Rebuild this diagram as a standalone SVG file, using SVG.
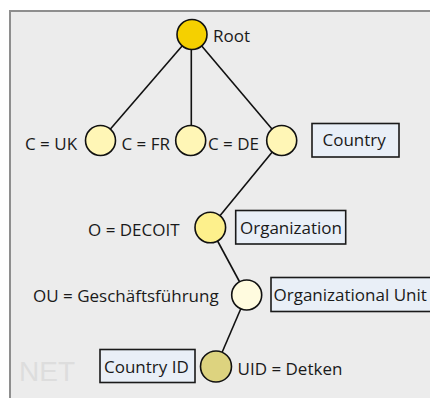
<svg xmlns="http://www.w3.org/2000/svg" width="430" height="398" viewBox="0 0 430 398">
<style>
text{font-family:"Open Sans","Noto Sans","Liberation Sans",sans-serif;font-size:17px;fill:#1a1a1a}
.n{stroke:#111;stroke-width:1.6}
.box{fill:#e9eff7;stroke:#1a1a1a;stroke-width:1.6}
.e{stroke:#111;stroke-width:1.6;fill:none}
</style>
<rect x="0" y="0" width="430" height="398" fill="#ffffff"/>
<rect x="10" y="11" width="440" height="400" fill="#ececec" stroke="#8e8e8e" stroke-width="2"/>
<text x="19" y="381" style="font-size:28px;fill:#dddddd;font-family:'Liberation Sans',sans-serif">NET</text>
<g id="connectors">
<line class="e" x1="192" y1="34.5" x2="100.5" y2="140.5"/>
<line class="e" x1="191.3" y1="34.5" x2="191.3" y2="140.5"/>
<line class="e" x1="192" y1="34.5" x2="281.7" y2="140.5"/>
<line class="e" x1="281.7" y1="140.5" x2="210.3" y2="227.5"/>
<line class="e" x1="210.3" y1="227.5" x2="246.7" y2="295"/>
<line class="e" x1="246.7" y1="295" x2="216" y2="366.5"/>
</g>
<g id="root"><circle class="n" cx="192" cy="34.5" r="15" fill="#f5d000"/><text x="213" y="42">Root</text></g>
<g id="c-uk"><circle class="n" cx="100.5" cy="140.5" r="15" fill="#fff6b6"/><text x="25" y="150">C = UK</text></g>
<g id="c-fr"><circle class="n" cx="190.7" cy="140.5" r="15" fill="#fff6b6"/><text x="121.5" y="150">C = FR</text></g>
<g id="c-de"><circle class="n" cx="281.7" cy="140.5" r="15" fill="#fff6b6"/><text x="208" y="150">C = DE</text></g>
<g id="country"><rect class="box" x="312" y="123.5" width="87" height="33.5"/><text x="322.5" y="146">Country</text></g>
<g id="o-decoit"><circle class="n" cx="210.3" cy="227.5" r="15.3" fill="#fdf08c"/><text x="88" y="236">O = DECOIT</text></g>
<g id="organization"><rect class="box" x="235.7" y="210.5" width="110" height="33.5"/><text x="240" y="233.5">Organization</text></g>
<g id="ou"><circle class="n" cx="246.7" cy="295" r="15" fill="#fffbdf"/><text x="33" y="302">OU = Geschäftsführung</text></g>
<g id="org-unit"><rect class="box" x="271" y="277.5" width="165" height="34"/><text x="273.5" y="301">Organizational Unit</text></g>
<g id="uid"><circle class="n" cx="216" cy="366.5" r="15.5" fill="#ddd37f"/><text x="237.5" y="375">UID = Detken</text></g>
<g id="country-id"><rect class="box" x="100" y="349.5" width="95" height="33"/><text x="104" y="373">Country ID</text></g>
</svg>
